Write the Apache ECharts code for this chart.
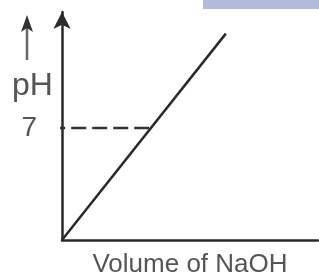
<!DOCTYPE html>
<html>
<head>
<meta charset="utf-8">
<script src="https://cdn.jsdelivr.net/npm/echarts@6/dist/echarts.min.js"></script>
<style>
html, body { margin: 0; padding: 0; background: #fff; }
#chart { width: 319px; height: 276px; }
</style>
</head>
<body>
<div id="chart"></div>
<script>
// titration curve: volume of NaOH vs pH (schematic)
var volume = [0, 32];
var phValues = [0, 12.9];
// dashed guide at pH 7
var guideVolume = [-2.3, 17.4];
var guidePh = [7, 7];
var yTicks = [7];

var chart = echarts.init(document.getElementById('chart'));

var option = {
    animation: false,
    grid: { left: 62, right: 1, top: 12, bottom: 36, outerBoundsMode: 'none' },
    xAxis: {
        type: 'value',
        min: 0,
        max: 50,
        name: 'Volume of NaOH',
        nameLocation: 'middle',
        nameGap: 12,
        nameTextStyle: { fontFamily: 'Liberation Sans', fontSize: 26, color: '#555' },
        axisLine: { lineStyle: { color: '#2a2a2a', width: 2.5 } },
        axisTick: { show: false },
        axisLabel: { show: false },
        splitLine: { show: false }
    },
    yAxis: {
        type: 'value',
        min: 0,
        max: 14.25,
        interval: 7,
        axisLine: { show: true, symbol: ['none', 'arrow'], symbolSize: [13, 17], lineStyle: { color: '#2a2a2a', width: 2.5 } },
        axisTick: { show: false },
        axisLabel: {
            margin: 25,
            fontFamily: 'Liberation Sans',
            fontSize: 28,
            color: '#555',
            formatter: function (v) { return yTicks.indexOf(v) >= 0 ? String(v) : ''; }
        },
        splitLine: { show: false }
    },
    graphic: [
        { type: 'rect', shape: { x: 203, y: 0, width: 116, height: 9 }, style: { fill: '#b3bbdb' } },
        { type: 'line', shape: { x1: 27, y1: 28, x2: 27, y2: 60 }, style: { stroke: '#666', lineWidth: 2.5 } },
        { type: 'polygon', shape: { points: [[27, 15], [21, 32], [27, 28], [33, 32]] }, style: { fill: '#333' } },
        { type: 'text', left: 12, top: 70, style: { text: 'pH', font: '32px "Liberation Sans"', fill: '#555' } }
    ],
    series: [
        {
            type: 'line',
            data: volume.map(function (v, i) { return [v, phValues[i]]; }),
            symbol: 'none',
            lineStyle: { color: '#2a2a2a', width: 2.5 }
        },
        {
            type: 'line',
            data: guideVolume.map(function (v, i) { return [v, guidePh[i]]; }),
            symbol: 'none',
            clip: false,
            lineStyle: { color: '#333', width: 2.5, type: [15, 6] }
        }
    ]
};
chart.setOption(option);
</script>
</body>
</html>
